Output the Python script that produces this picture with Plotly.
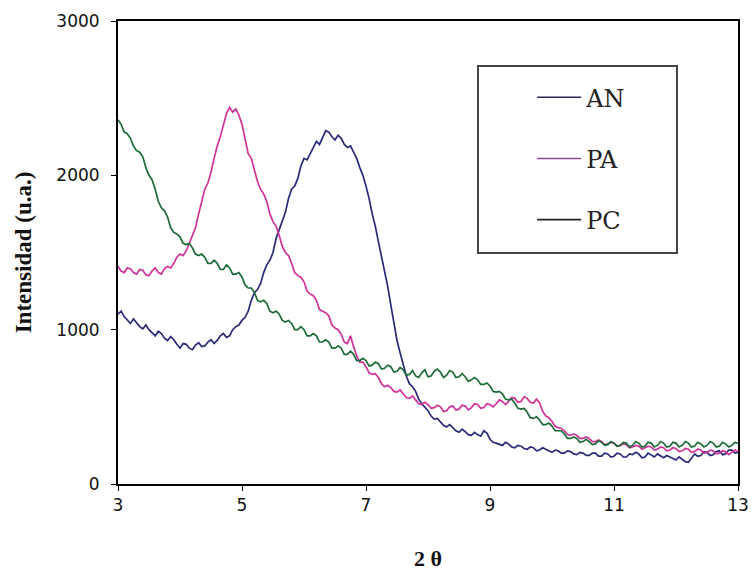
import plotly.graph_objects as go

two_theta = [
    3.00, 3.05, 3.10, 3.15, 3.20, 3.25, 3.30, 3.35, 3.40, 3.45, 3.50, 3.55, 3.60, 3.65, 3.70, 3.75, 3.80, 3.85, 3.90, 3.95,
    4.00, 4.05, 4.10, 4.15, 4.20, 4.25, 4.30, 4.35, 4.40, 4.45, 4.50, 4.55, 4.60, 4.65, 4.70, 4.75, 4.80, 4.85, 4.90, 4.95,
    5.00, 5.05, 5.10, 5.15, 5.20, 5.25, 5.30, 5.35, 5.40, 5.45, 5.50, 5.55, 5.60, 5.65, 5.70, 5.75, 5.80, 5.85, 5.90, 5.95,
    6.00, 6.05, 6.10, 6.15, 6.20, 6.25, 6.30, 6.35, 6.40, 6.45, 6.50, 6.55, 6.60, 6.65, 6.70, 6.75, 6.80, 6.85, 6.90, 6.95,
    7.00, 7.05, 7.10, 7.15, 7.20, 7.25, 7.30, 7.35, 7.40, 7.45, 7.50, 7.55, 7.60, 7.65, 7.70, 7.75, 7.80, 7.85, 7.90, 7.95,
    8.00, 8.05, 8.10, 8.15, 8.20, 8.25, 8.30, 8.35, 8.40, 8.45, 8.50, 8.55, 8.60, 8.65, 8.70, 8.75, 8.80, 8.85, 8.90, 8.95,
    9.00, 9.05, 9.10, 9.15, 9.20, 9.25, 9.30, 9.35, 9.40, 9.45, 9.50, 9.55, 9.60, 9.65, 9.70, 9.75, 9.80, 9.85, 9.90, 9.95,
    10.00, 10.05, 10.10, 10.15, 10.20, 10.25, 10.30, 10.35, 10.40, 10.45, 10.50, 10.55, 10.60, 10.65, 10.70, 10.75, 10.80, 10.85, 10.90, 10.95,
    11.00, 11.05, 11.10, 11.15, 11.20, 11.25, 11.30, 11.35, 11.40, 11.45, 11.50, 11.55, 11.60, 11.65, 11.70, 11.75, 11.80, 11.85, 11.90, 11.95,
    12.00, 12.05, 12.10, 12.15, 12.20, 12.25, 12.30, 12.35, 12.40, 12.45, 12.50, 12.55, 12.60, 12.65, 12.70, 12.75, 12.80, 12.85, 12.90, 12.95,
    13.00]

an = [
    1100, 1120, 1085, 1060, 1040, 1070, 1045, 1020, 1005, 1030, 1000, 980, 960, 990, 975, 945, 930, 955, 935, 905,
    880, 910, 905, 880, 870, 900, 915, 890, 895, 920, 935, 910, 930, 960, 975, 950, 960, 1000, 1020, 1030,
    1060, 1080, 1120, 1190, 1240, 1260, 1300, 1370, 1420, 1450, 1500, 1590, 1650, 1700, 1760, 1850, 1910, 1930, 1980, 2060,
    2110, 2100, 2140, 2190, 2220, 2200, 2240, 2290, 2280, 2250, 2230, 2260, 2240, 2200, 2180, 2190, 2150, 2110, 2050, 2000,
    1930, 1850, 1750, 1670, 1570, 1480, 1370, 1280, 1160, 1050, 930, 850, 770, 700, 650, 630, 600, 550, 520, 500,
    475, 440, 420, 425, 405, 380, 370, 385, 365, 345, 335, 355, 340, 320, 315, 335, 320, 310, 345, 330,
    290, 270, 265, 255, 250, 270, 260, 240, 235, 250, 245, 230, 225, 240, 235, 215, 220, 235, 225, 210,
    205, 220, 215, 200, 200, 215, 210, 195, 190, 205, 200, 185, 185, 200, 200, 180, 180, 200, 195, 175,
    180, 200, 195, 175, 175, 195, 190, 205, 195, 170, 175, 200, 190, 175, 195, 180, 170, 185, 175, 160,
    155, 175, 160, 145, 140, 165, 195, 180, 185, 210, 205, 185, 190, 210, 215, 190, 195, 220, 220, 200,
    205]

pa = [
    1410, 1380, 1370, 1400, 1395, 1370, 1360, 1390, 1385, 1355, 1350, 1380, 1400, 1370, 1360, 1395, 1410, 1400, 1430, 1470,
    1490, 1480, 1510, 1560, 1610, 1660, 1750, 1830, 1910, 1950, 2020, 2110, 2190, 2250, 2320, 2400, 2440, 2410, 2430, 2390,
    2330, 2230, 2140, 2110, 2040, 1960, 1910, 1880, 1830, 1750, 1700, 1670, 1610, 1540, 1500, 1480, 1430, 1370, 1350, 1340,
    1310, 1250, 1230, 1220, 1190, 1130, 1120, 1110, 1090, 1030, 1010, 1000, 970, 920, 910, 960, 890, 830, 790, 790,
    760, 720, 710, 715, 690, 650, 630, 640, 625, 600, 595, 610, 585, 560, 555, 570, 545, 520, 515, 530,
    515, 490, 495, 510, 500, 470, 475, 500, 505, 480, 485, 510, 505, 480, 495, 520, 515, 490, 495, 520,
    515, 500, 520, 545, 535, 515, 535, 560, 555, 530, 535, 565, 555, 530, 525, 550, 525, 470, 440, 430,
    405, 375, 365, 360, 345, 320, 315, 325, 315, 295, 295, 305, 295, 275, 275, 285, 275, 255, 260, 270,
    265, 245, 250, 260, 255, 235, 240, 250, 245, 225, 235, 245, 240, 220, 225, 240, 235, 215, 220, 235,
    230, 210, 215, 230, 225, 205, 210, 225, 220, 200, 205, 220, 215, 195, 200, 215, 210, 190, 205, 220,
    210]

pc = [
    2360, 2330, 2280, 2270, 2240, 2190, 2160, 2150, 2120, 2050, 2000, 1970, 1910, 1830, 1790, 1770, 1730, 1660, 1630, 1620,
    1600, 1560, 1550, 1560, 1530, 1490, 1480, 1490, 1470, 1430, 1430, 1450, 1430, 1390, 1390, 1420, 1400, 1360, 1360, 1370,
    1340, 1290, 1270, 1270, 1240, 1190, 1180, 1190, 1170, 1120, 1110, 1120, 1100, 1060, 1050, 1060, 1040, 1000, 1000, 1020,
    1000, 960, 960, 975, 960, 920, 920, 935, 920, 880, 880, 895, 880, 840, 840, 860, 840, 800, 800, 815,
    800, 765, 770, 790, 780, 745, 750, 770, 760, 725, 730, 755, 740, 705, 710, 735, 700, 690, 720, 740,
    695, 700, 730, 745, 725, 690, 705, 735, 725, 690, 695, 715, 695, 665, 675, 690, 675, 645, 645, 655,
    635, 600, 595, 600, 585, 550, 545, 550, 525, 490, 485, 490, 465, 430, 425, 435, 415, 385, 385, 395,
    375, 345, 345, 345, 325, 295, 295, 305, 295, 270, 275, 290, 275, 255, 260, 280, 270, 250, 255, 275,
    265, 245, 250, 270, 265, 240, 250, 275, 265, 240, 245, 270, 265, 240, 250, 275, 265, 240, 245, 270,
    265, 240, 250, 275, 265, 240, 245, 270, 260, 240, 250, 275, 265, 240, 245, 270, 260, 240, 250, 270,
    265]

series_names = ["AN", "PA", "PC"]
line_colors = ["#2a2a78", "#cf3399", "#1c6b38"]
legend_colors = ["#2a2a5e", "#8a4a8e", "#222222"]
y_ticks = [0, 1000, 2000, 3000]
x_ticks = [3, 5, 7, 9, 11, 13]

fig = go.Figure()
for name, ys, col in zip(series_names, [an, pa, pc], line_colors):
    fig.add_trace(go.Scatter(x=two_theta, y=ys, mode="lines", name=name,
                             line=dict(color=col, width=1.7), showlegend=False))
for name, col in zip(series_names, legend_colors):
    fig.add_trace(go.Scatter(x=[None], y=[None], mode="lines", name=name,
                             legendgroup=name,
                             line=dict(color=col, width=1.6), showlegend=True))

fig.update_layout(
    width=753, height=577,
    margin=dict(l=118, r=15, t=21, b=93, autoexpand=False),
    paper_bgcolor="white", plot_bgcolor="white",
    showlegend=True,
    legend=dict(x=0.668, y=0.883, xanchor="left", yanchor="top",
                bgcolor="rgba(0,0,0,0)", borderwidth=0,
                font=dict(family="DejaVu Serif", size=24, color="#222222"),
                tracegroupgap=27, itemwidth=44),
    shapes=[dict(type="rect", xref="paper", yref="paper",
                 x0=0.5806, x1=0.9016, y0=0.4989, y1=0.9028,
                 line=dict(color="#444444", width=2))],
)
fig.update_xaxes(range=[3, 13], tickvals=x_ticks, ticks="outside", ticklen=5,
                 tickcolor="black", showline=True, linecolor="black", linewidth=2,
                 mirror=True, showgrid=False, zeroline=False, automargin=False,
                 tickfont=dict(family="DejaVu Sans", size=17, color="#111111"),
                 title=dict(text="2 θ", standoff=36,
                            font=dict(family="Liberation Serif", size=22, color="#111111",
                                      weight="bold")))
fig.update_yaxes(range=[0, 3000], tickvals=y_ticks, ticks="outside", ticklen=5,
                 tickcolor="black", showline=True, linecolor="black", linewidth=2,
                 mirror=True, showgrid=False, zeroline=False, ticklabelstandoff=8,
                 automargin=False,
                 tickfont=dict(family="DejaVu Sans", size=17, color="#111111"),
                 title=dict(text="Intensidad (u.a.)", standoff=18,
                            font=dict(family="Liberation Serif", size=23, color="#111111",
                                      weight="bold")))

fig.write_html("out.html")
